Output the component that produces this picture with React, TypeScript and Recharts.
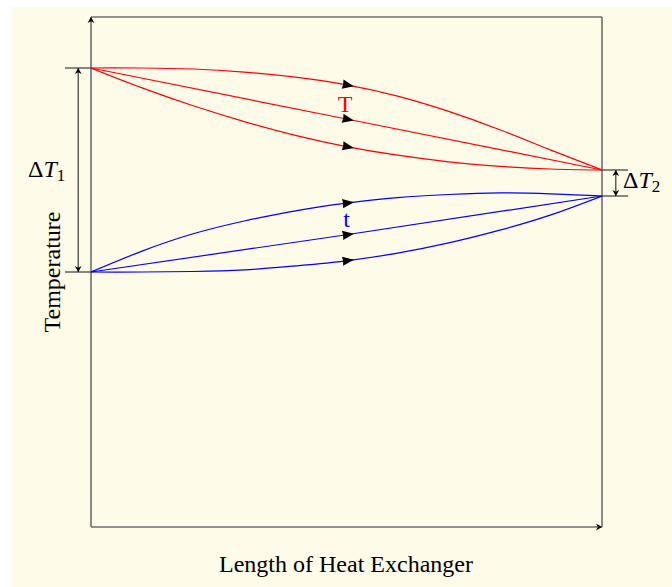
import React from "react";
import { ComposedChart, Line, XAxis, YAxis, ReferenceLine } from "recharts";

// positions along the exchanger (0 = inlet, 10 = outlet)
const LENGTH = [0, 1, 2, 3, 4, 5, 6, 7, 8, 9, 10];
const LENGTH_ENDS = [0, 5, 10];

// hot stream T, three profiles
const HOT_CONCAVE = [9.0, 9.0, 8.98, 8.92, 8.82, 8.67, 8.45, 8.15, 7.79, 7.39, 7.0];
const HOT_LINEAR = [9.0, 8.0, 7.0];
const HOT_CONVEX = [9.0, 8.61, 8.26, 7.95, 7.68, 7.46, 7.29, 7.16, 7.07, 7.02, 7.0];

// cold stream t, three profiles
const COLD_CONCAVE = [5.0, 5.41, 5.75, 6.0, 6.2, 6.35, 6.46, 6.52, 6.55, 6.53, 6.49];
const COLD_LINEAR = [5.0, 5.73, 6.49];
const COLD_CONVEX = [5.0, 5.0, 5.01, 5.04, 5.12, 5.22, 5.37, 5.57, 5.82, 6.12, 6.49];

const T_IN = 9.0;
const T_OUT = 7.0;
const t_IN = 5.0;
const t_OUT = 6.49;

const W = 661;
const H = 580;
const MARGIN = { top: 10, right: 70, bottom: 60, left: 80 };
const PX_X = (W - MARGIN.left - MARGIN.right) / 10;
const PX_Y = (H - MARGIN.top - MARGIN.bottom) / 10;

const FONT = "'Liberation Serif', 'Times New Roman', serif";
const FRAME = "#6e6e6e";
const TICK = "#3a3a3a";

const toRows = (xs: number[], ys: number[]) => xs.map((x, i) => ({ x, y: ys[i] }));

// filled arrowhead placed mid-curve, oriented along the curve
const makeArrowDot = (xs: number[], ys: number[], at: number) => (props: any) => {
  const { cx, cy, index } = props;
  if (index !== at || cx == null) return <g key={`d-${index}`} />;
  const dx = (xs[at + 1] - xs[at - 1]) * PX_X;
  const dy = -(ys[at + 1] - ys[at - 1]) * PX_Y;
  const ang = (Math.atan2(dy, dx) * 180) / Math.PI;
  return (
    <path
      key={`d-${index}`}
      transform={`translate(${cx},${cy}) rotate(${ang})`}
      d="M7.5,0 L-4,-4.6 Q-2.6,0 -4,4.6 Z"
      fill="#000"
    />
  );
};

const head = (x: number, y: number, ang: number, size = 1) => (
  <path
    transform={`translate(${x},${y}) rotate(${ang}) scale(${size})`}
    d="M0,0 L-6,-3.4 L-4.2,0 L-6,3.4 Z"
    fill="#000"
  />
);

// line with arrowheads at one or both ends
const arrowLine = (both: boolean, stroke: string, width: number) => (p: any) => {
  const { x1, y1, x2, y2 } = p;
  const ang = (Math.atan2(y2 - y1, x2 - x1) * 180) / Math.PI;
  return (
    <g>
      <line x1={x1} y1={y1} x2={x2} y2={y2} stroke={stroke} strokeWidth={width} />
      {head(x2, y2, ang)}
      {both ? head(x1, y1, ang + 180) : null}
    </g>
  );
};

const series = [
  { key: "hc", xs: LENGTH, ys: HOT_CONCAVE, color: "#ff0000", at: 5 },
  { key: "hl", xs: LENGTH_ENDS, ys: HOT_LINEAR, color: "#ff0000", at: 1 },
  { key: "hv", xs: LENGTH, ys: HOT_CONVEX, color: "#ff0000", at: 5 },
  { key: "cc", xs: LENGTH, ys: COLD_CONCAVE, color: "#0000ff", at: 5 },
  { key: "cl", xs: LENGTH_ENDS, ys: COLD_LINEAR, color: "#0000ff", at: 1 },
  { key: "cv", xs: LENGTH, ys: COLD_CONVEX, color: "#0000ff", at: 5 },
];

export default function App() {
  return (
    <div
      style={{
        position: "absolute",
        left: 11,
        top: 7,
        width: W,
        height: H,
        background: "#fefbe8",
      }}
    >
      <ComposedChart width={W} height={H} margin={MARGIN}>
        <XAxis type="number" dataKey="x" domain={[0, 10]} hide allowDataOverflow />
        <YAxis type="number" dataKey="y" domain={[0, 10]} hide allowDataOverflow />

        {/* frame */}
        <ReferenceLine segment={[{ x: 0, y: 10 }, { x: 10, y: 10 }]} stroke={FRAME} strokeWidth={1.6} />
        <ReferenceLine segment={[{ x: 10, y: 0 }, { x: 10, y: 10 }]} stroke={FRAME} strokeWidth={1.6} />
        <ReferenceLine
          segment={[{ x: 0, y: 0 }, { x: 0, y: 10 }]}
          shape={arrowLine(false, FRAME, 1.6)}
        />
        <ReferenceLine
          segment={[{ x: 0, y: 0 }, { x: 10, y: 0 }]}
          shape={arrowLine(false, FRAME, 1.6)}
        />

        {/* delta T1 */}
        <ReferenceLine segment={[{ x: -0.51, y: T_IN }, { x: 0, y: T_IN }]} stroke={TICK} strokeWidth={1.2} ifOverflow="visible" />
        <ReferenceLine segment={[{ x: -0.51, y: t_IN }, { x: 0, y: t_IN }]} stroke={TICK} strokeWidth={1.2} ifOverflow="visible" />
        <ReferenceLine
          segment={[{ x: -0.25, y: t_IN }, { x: -0.25, y: T_IN }]}
          ifOverflow="visible"
          shape={arrowLine(true, TICK, 1.2)}
        />

        {/* delta T2 */}
        <ReferenceLine segment={[{ x: 10, y: T_OUT }, { x: 10.51, y: T_OUT }]} stroke={TICK} strokeWidth={1.2} ifOverflow="visible" />
        <ReferenceLine segment={[{ x: 10, y: t_OUT }, { x: 10.51, y: t_OUT }]} stroke={TICK} strokeWidth={1.2} ifOverflow="visible" />
        <ReferenceLine
          segment={[{ x: 10.27, y: t_OUT }, { x: 10.27, y: T_OUT }]}
          ifOverflow="visible"
          shape={arrowLine(true, TICK, 1.2)}
        />

        {series.map((s) => (
          <Line
            key={s.key}
            data={toRows(s.xs, s.ys)}
            dataKey="y"
            type={s.xs.length > 3 ? "natural" : "linear"}
            stroke={s.color}
            strokeWidth={1.2}
            dot={makeArrowDot(s.xs, s.ys, s.at)}
            activeDot={false}
            isAnimationActive={false}
          />
        ))}

        <text x={334} y={105} textAnchor="middle" fontFamily={FONT} fontSize={24} fill="#ff0000">
          T
        </text>
        <text x={335.5} y={219.5} textAnchor="middle" fontFamily={FONT} fontSize={24} fill="#0000ff">
          t
        </text>
        <text x={17} y={170} fontFamily={FONT} fontSize={24} fill="#000">
          Δ<tspan fontStyle="italic">T</tspan>
          <tspan fontSize={17} dy={4}>1</tspan>
        </text>
        <text x={612} y={181} fontFamily={FONT} fontSize={24} fill="#000">
          Δ<tspan fontStyle="italic">T</tspan>
          <tspan fontSize={17} dy={4}>2</tspan>
        </text>
        <text x={335} y={565} textAnchor="middle" fontFamily={FONT} fontSize={24} fill="#000">
          Length of Heat Exchanger
        </text>
        <text
          transform="translate(49,265) rotate(-90)"
          textAnchor="middle"
          fontFamily={FONT}
          fontSize={24}
          fill="#000"
        >
          Temperature
        </text>
      </ComposedChart>
    </div>
  );
}
